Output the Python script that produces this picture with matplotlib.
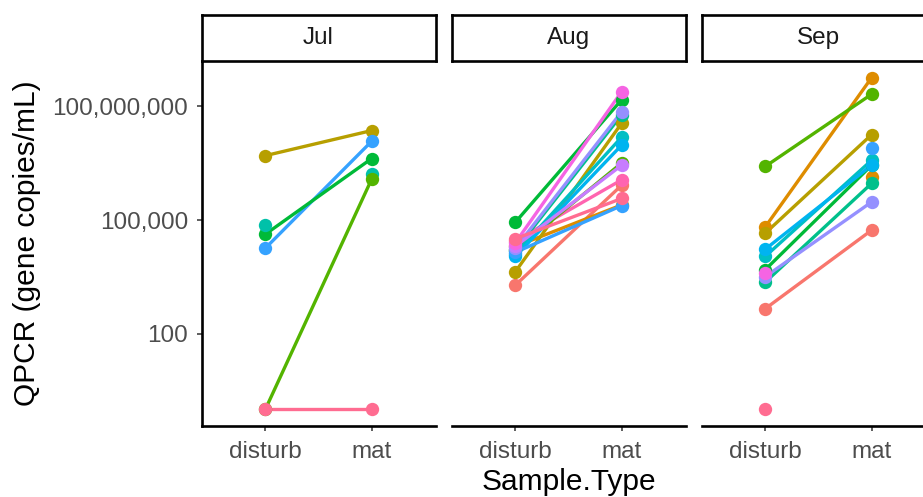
# -*- coding: utf-8 -*-

import numpy as np
import matplotlib
matplotlib.use("Agg")
import matplotlib.pyplot as plt
from matplotlib.ticker import FixedLocator, NullLocator

# --------------------
# data
# nan = no sample of that type -> point only, no line
# --------------------
months = ["Jul", "Aug", "Sep"]
sample_types = ["disturb", "mat"]

# Jul
jul_colors = ["#B79F00", "#35A2FF", "#00BA38", "#00C1A9", "#00C1A9", "#53B400", "#FF6C91"]
jul_disturb = [5.0e6, 1.8e4, 4.2e4, 7.6e4, np.nan, 1, 1]
jul_mat = [2.3e7, 1.2e7, 4.2e6, np.nan, 1.6e6, 1.2e6, 1]

# Aug
aug_colors = ["#F8766D", "#FF64B0", "#DE8C00", "#B79F00", "#53B400", "#00BA38", "#00C08B",
              "#00BFC4", "#00B4F0", "#35A2FF", "#9590FF", "#C77CFF", "#F564E3", "#FF6C91"]
aug_disturb = [1.9e3, 2.8e4, 2.0e4, 4.3e3, 1.6e4, 8.7e4, 1.6e4,
               1.26e4, 1.1e4, 1.4e4, 1.8e4, 2.0e4, 2.5e4, 3.2e4]
aug_mat = [8.3e5, 1.15e6, 2.5e5, 3.6e7, 3.2e6, 1.5e8, 6.0e7,
           1.55e7, 9.5e6, 2.4e5, 7.2e7, 2.8e6, 2.45e8, 3.7e5]

# Sep
sep_colors = ["#F8766D", "#DE8C00", "#DE8C00", "#B79F00", "#53B400", "#00BA38", "#00C08B",
              "#00BFC4", "#00B4F0", "#35A2FF", "#9590FF", "#F564E3", "#FF6C91"]
sep_disturb = [457, 6.6e4, np.nan, 4.5e4, 2.6e6, 4.9e3, 2.3e3,
               1.1e4, 1.7e4, np.nan, 3.2e3, 3.9e3, 1]
sep_mat = [5.4e4, 5.75e8, 1.4e6, 1.8e7, 2.1e8, 2.8e6, 9.3e5,
           3.8e6, 2.8e6, 7.8e6, 3.0e5, np.nan, np.nan]

y_ticks = [1e2, 1e5, 1e8]

panels = [
    (jul_colors, jul_disturb, jul_mat),
    (aug_colors, aug_disturb, aug_mat),
    (sep_colors, sep_disturb, sep_mat),
]

# --------------------
# figure layout (pixel based)
# --------------------
W, H = 923, 497
plt.rcParams["font.family"] = ["Liberation Sans", "DejaVu Sans"]

fig = plt.figure(figsize=(W / 100, H / 100), dpi=100)

def px_box(left, top, width, height):
    return [left / W, 1 - (top + height) / H, width / W, height / H]

panel_left = [201.5, 451.5, 701.5]
panel_w = 234
panel_top = 61
panel_h = 365
strip_top = 15
strip_h = 46

# y range: log scale with 5% expansion of the data range
all_vals = np.concatenate([np.array(p[1] + p[2], dtype=float) for p in panels])
lo = np.log10(np.nanmin(all_vals))
hi = np.log10(np.nanmax(all_vals))
pad = (hi - lo) * 0.05
ylim = (10 ** (lo - pad), 10 ** (hi + pad))

x_pos = np.arange(1, len(sample_types) + 1)

for i, (colors, disturb, mat) in enumerate(panels):
    ax = fig.add_axes(px_box(panel_left[i], panel_top, panel_w, panel_h))
    ax.set_yscale("log")

    # lines first, then the points on top
    for c, d, m in zip(colors, disturb, mat):
        if not (np.isnan(d) or np.isnan(m)):
            ax.plot(x_pos, [d, m], color=c, lw=2.4, solid_capstyle="butt", zorder=2)
    for c, d, m in zip(colors, disturb, mat):
        ax.plot(x_pos, [d, m], ls="none", marker="o", ms=9.6, color=c,
                markeredgewidth=0, zorder=3)

    ax.set_xlim(0.4, 2.6)
    ax.set_ylim(ylim)
    ax.set_xticks(x_pos)
    ax.set_xticklabels(sample_types)

    for s in ["top", "right"]:
        ax.spines[s].set_visible(False)
    ax.spines["bottom"].set_linewidth(1.9)
    ax.spines["left"].set_linewidth(1.9)
    ax.tick_params(axis="both", length=3.6, width=1.1, color="#333333",
                   labelsize=17.5, labelcolor="#4D4D4D")
    ax.tick_params(axis="x", pad=7.5)
    ax.tick_params(axis="y", pad=6)

    ax.yaxis.set_minor_locator(NullLocator())
    if i == 0:
        ax.yaxis.set_major_locator(FixedLocator(y_ticks))
        ax.set_yticklabels([f"{v:,.0f}" for v in y_ticks])
    else:
        ax.spines["left"].set_visible(False)
        ax.set_yticks([])

    # facet strip
    sx = fig.add_axes(px_box(panel_left[i], strip_top, panel_w, strip_h))
    sx.set_xticks([])
    sx.set_yticks([])
    for s in sx.spines.values():
        s.set_linewidth(1.9)
    sx.text(0.5, 0.5, months[i], ha="center", va="center", fontsize=17.5,
            color="#1A1A1A", transform=sx.transAxes)

# axis titles
fig.text(27 / W, 1 - (panel_top + panel_h / 2) / H, "QPCR (gene copies/mL)",
         rotation=90, ha="center", va="center", fontsize=21.5)
fig.text(569 / W, 1 - 482 / H, "Sample.Type", ha="center", va="center", fontsize=21.5)

fig.savefig("out.png", dpi=100)
